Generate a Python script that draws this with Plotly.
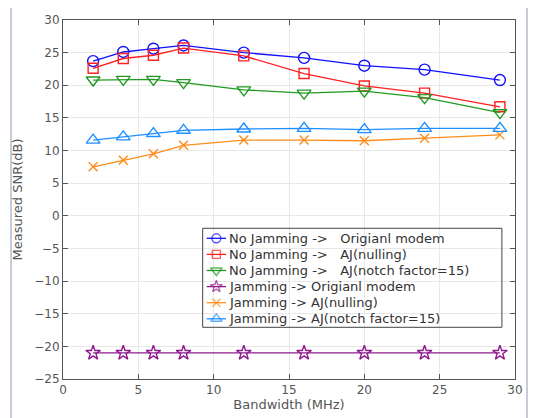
import plotly.graph_objects as go

bandwidth = [2, 4, 6, 8, 12, 16, 20, 24, 29]
nojam_original = [23.7, 25.1, 25.6, 26.1, 25.0, 24.2, 23.0, 22.4, 20.8]
nojam_nulling = [22.6, 24.1, 24.6, 25.7, 24.5, 21.8, 19.9, 18.8, 16.7]
nojam_notch = [20.8, 20.9, 20.9, 20.4, 19.3, 18.8, 19.1, 18.1, 15.8]
jam_original = [-21, -21, -21, -21, -21, -21, -21, -21, -21]
jam_nulling = [7.5, 8.5, 9.5, 10.8, 11.6, 11.6, 11.5, 11.9, 12.4]
jam_notch = [11.6, 12.1, 12.6, 13.1, 13.3, 13.4, 13.2, 13.4, 13.4]

names = [
    "No Jamming ->   Origianl modem",
    "No Jamming ->   AJ(nulling)",
    "No Jamming ->   AJ(notch factor=15)",
    "Jamming -> Origianl modem",
    "Jamming -> AJ(nulling)",
    "Jamming -> AJ(notch factor=15)",
]
series = [nojam_original, nojam_nulling, nojam_notch, jam_original, jam_nulling, jam_notch]
colors = ["#1010ff", "#ff2020", "#229922", "#8e1a8e", "#ff8c1a", "#1e8fff"]
symbols = ["circle-open", "square-open", "triangle-down-open", "star-open", "x-thin-open", "triangle-up-open"]
sizes = [11, 10, 12, 11, 9, 12]
legend_sizes = [9, 8, 10, 9, 8, 10]

X_RANGE = [0, 30]
Y_RANGE = [-25, 30]


def fx(frac):
    return X_RANGE[0] + (X_RANGE[1] - X_RANGE[0]) * frac


def fy(frac):
    return Y_RANGE[0] + (Y_RANGE[1] - Y_RANGE[0]) * frac


# legend box layout (fractions of the plot area)
LEG_X0, LEG_X1, LEG_Y0, LEG_Y1 = 0.309, 0.971, 0.144, 0.4198
LEG_ROW0, LEG_STEP = 0.3919, 0.04485
LEG_LINE0, LEG_LINE1 = 0.3179, 0.3606
LEG_TEXT = 0.362

fig = go.Figure()
for n, s, c, sym, sz in zip(names, series, colors, symbols, sizes):
    fig.add_trace(go.Scatter(
        x=bandwidth, y=s, name=n, mode="lines+markers", showlegend=False,
        line=dict(color=c, width=1.3),
        marker=dict(symbol=sym, size=sz, color=c, line=dict(color=c, width=1.4)),
    ))

annotations = []
for i, (n, c, sym, lsz) in enumerate(zip(names, colors, symbols, legend_sizes)):
    row = LEG_ROW0 - i * LEG_STEP
    xs = [fx(LEG_LINE0), fx((LEG_LINE0 + LEG_LINE1) / 2), fx(LEG_LINE1)]
    fig.add_trace(go.Scatter(
        x=xs, y=[fy(row)] * 3, mode="lines+markers", showlegend=False,
        hoverinfo="skip",
        line=dict(color=c, width=1.3),
        marker=dict(symbol=sym, size=[0, lsz, 0], color=c, line=dict(color=c, width=1.4)),
    ))
    annotations.append(dict(
        xref="paper", yref="paper", x=LEG_TEXT, y=row, xanchor="left", yanchor="middle",
        text=n, showarrow=False,
        font=dict(family="DejaVu Sans", size=13, color="#333333"),
    ))

axis_common = dict(
    showgrid=True, gridcolor="#e8e8e8", gridwidth=1,
    showline=True, linecolor="#555555", linewidth=1, mirror="ticks",
    ticks="inside", ticklen=5, tickcolor="#555555",
    zeroline=False, automargin=False,
    tickfont=dict(family="DejaVu Sans", size=12, color="#555555"),
)

# page body has an 8px margin, so the figure is sized to the remaining area
fig.update_layout(
    width=529, height=410,
    margin=dict(l=55, r=22, t=12, b=39),
    paper_bgcolor="white", plot_bgcolor="white",
    font=dict(family="DejaVu Sans", color="#444444"),
    showlegend=False,
    xaxis=dict(range=X_RANGE, dtick=5,
               title=dict(text="Bandwidth (MHz)", font=dict(size=13, color="#555555"), standoff=0),
               **axis_common),
    yaxis=dict(range=Y_RANGE, dtick=5,
               title=dict(text="Measured SNR(dB)", font=dict(size=13, color="#555555"), standoff=8),
               **axis_common),
    annotations=annotations,
)

# outer frame of the figure window
fig.add_shape(type="rect", xref="paper", yref="paper",
              x0=-0.115, x1=1.0265, y0=-0.3, y1=1.042,
              line=dict(color="#b4bccb", width=1.5), layer="below")
# legend border (no fill, drawn on top so it is always visible)
fig.add_shape(type="rect", xref="paper", yref="paper",
              x0=LEG_X0, x1=LEG_X1, y0=LEG_Y0, y1=LEG_Y1,
              line=dict(color="#444444", width=1), fillcolor="rgba(0,0,0,0)", layer="above")

fig.write_html("out.html")
